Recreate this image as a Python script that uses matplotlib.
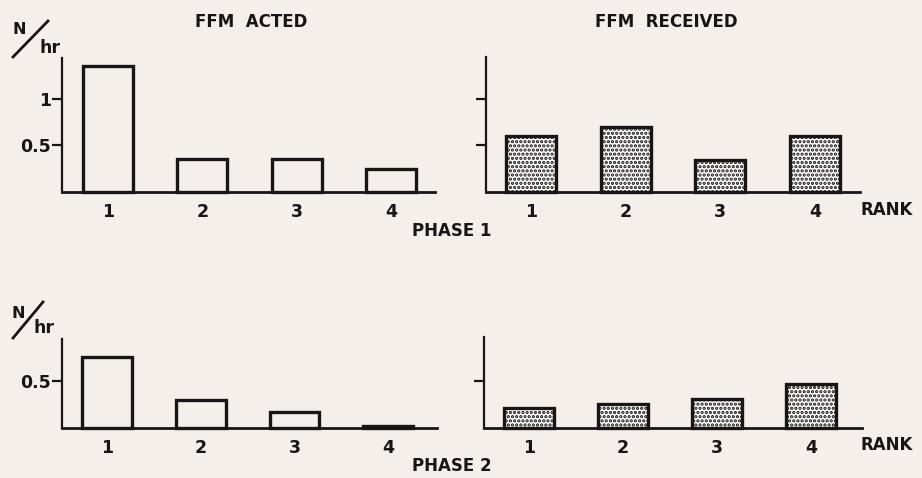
import matplotlib
matplotlib.use("Agg")
import matplotlib.pyplot as plt
from matplotlib.lines import Line2D

# data (N/hr per rank)
RANKS = [1, 2, 3, 4]
P1_ACTED = [1.35, 0.35, 0.35, 0.25]
P1_RECEIVED = [0.60, 0.70, 0.345, 0.60]
P2_ACTED = [0.755, 0.30, 0.17, 0.02]
P2_RECEIVED = [0.21, 0.255, 0.31, 0.47]

BG = "#F5EFEB"
INK = "#1A1515"
W, H = 922, 478

plt.rcParams["font.family"] = ["DejaVu Sans"]
plt.rcParams["font.weight"] = "bold"
plt.rcParams["hatch.color"] = INK
plt.rcParams["hatch.linewidth"] = 1.6


def px_axes(fig, left, right, base, top):
    # rectangle given in image pixels (origin top-left)
    return fig.add_axes([left / W, 1 - base / H, (right - left) / W, (base - top) / H])


def panel(ax, values, xlim, ytop, yticks, ylabels, hatched):
    ax.set_facecolor("none")
    ax.bar(RANKS, values, width=0.53, color="white" if hatched else BG,
           edgecolor=INK, linewidth=2.4, hatch="...." if hatched else None,
           zorder=3, clip_on=False)
    ax.set_xlim(*xlim)
    ax.set_ylim(0, ytop)
    for side in ("top", "right"):
        ax.spines[side].set_visible(False)
    ax.spines["left"].set_linewidth(1.6)
    ax.spines["bottom"].set_linewidth(2.0)
    ax.spines["left"].set_color(INK)
    ax.spines["bottom"].set_color(INK)
    ax.set_xticks(RANKS, [str(r) for r in RANKS])
    ax.set_yticks(yticks, ylabels)
    ax.tick_params(axis="x", length=0, pad=8, labelsize=12.5, colors=INK)
    ax.tick_params(axis="y", length=7, width=1.6, pad=1, labelsize=12.5, colors=INK)


def per_hr(fig, nx, ny, x0, y0, x1, y1, hx, hy):
    fig.text(nx / W, 1 - ny / H, "N", fontsize=11.5, ha="center", va="center", color=INK)
    fig.add_artist(Line2D([x0 / W, x1 / W], [1 - y0 / H, 1 - y1 / H],
                          transform=fig.transFigure, color=INK, linewidth=2.0))
    fig.text(hx / W, 1 - hy / H, "hr", fontsize=12.5, ha="center", va="center", color=INK)


fig = plt.figure(figsize=(W / 100, H / 100), dpi=100, facecolor=BG)

ax1 = px_axes(fig, 62, 435, 192, 58)
panel(ax1, P1_ACTED, (0.512, 4.467), 1.44, [0.5, 1], ["0.5", "1"], False)
ax2 = px_axes(fig, 486, 860, 192, 57)
panel(ax2, P1_RECEIVED, (0.525, 4.475), 1.45, [0.5, 1], ["", ""], True)
ax3 = px_axes(fig, 62, 437, 428, 339)
panel(ax3, P2_ACTED, (0.52, 4.52), 0.95, [0.5], ["0.5"], False)
ax4 = px_axes(fig, 484, 862, 428, 337)
panel(ax4, P2_RECEIVED, (0.52, 4.54), 0.97, [0.5], [""], True)

fig.text(251 / W, 1 - 22 / H, "FFM  ACTED", fontsize=12, ha="center", va="center", color=INK)
fig.text(666 / W, 1 - 22 / H, "FFM  RECEIVED", fontsize=12, ha="center", va="center", color=INK)
fig.text(452 / W, 1 - 231 / H, "PHASE 1", fontsize=12, ha="center", va="center", color=INK)
fig.text(452 / W, 1 - 466 / H, "PHASE 2", fontsize=12, ha="center", va="center", color=INK)
fig.text(887 / W, 1 - 210 / H, "RANK", fontsize=12, ha="center", va="center", color=INK)
fig.text(887 / W, 1 - 445 / H, "RANK", fontsize=12, ha="center", va="center", color=INK)

per_hr(fig, 19, 29, 13, 57, 48, 21, 50, 48)
per_hr(fig, 18, 313, 13, 338, 43, 302, 44, 328)

fig.savefig("out.png", dpi=100, facecolor=BG)
